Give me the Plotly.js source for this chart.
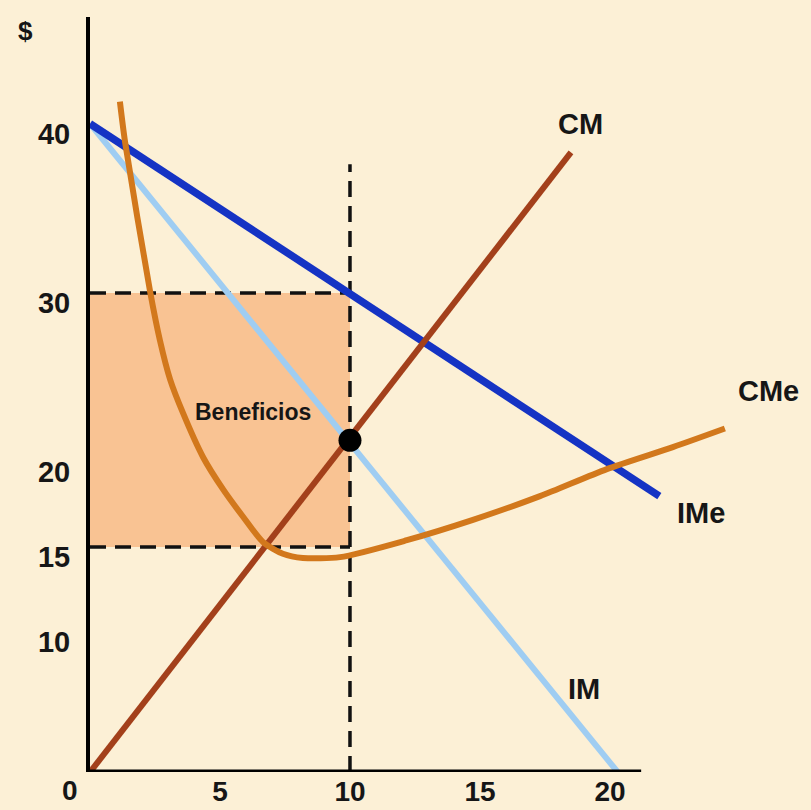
<!DOCTYPE html>
<html>
<head>
<meta charset="utf-8">
<script src="https://cdn.plot.ly/plotly-3.0.1.min.js"></script>
<style>html,body{margin:0;padding:0;background:#fcf0d6;}</style>
</head>
<body>
<div id="chart" style="width:811px;height:810px;"></div>
<script>
// Demand / marginal revenue (ingreso medio / ingreso marginal)
const qIMe = [0, 21.9];
const vIMe = [40, 18];
const qIM = [0, 20.3];
const vIM = [40, 1.7];
// Marginal cost
const qCM = [0, 18.5];
const vCM = [1.7, 38.3];
// Average cost (U-shaped)
const qCMe = [1.15, 1.35, 2.31, 2.69, 3.08, 3.58, 4.35, 5.12, 5.88, 6.65, 7.42, 8.19, 9.62, 12.19, 14.73, 17.31, 19.88, 22.42, 24.42];
const vCMe = [41.3, 38.9, 30.1, 27.2, 24.9, 22.9, 20.3, 18.4, 16.8, 15.3, 14.6, 14.35, 14.4, 15.4, 16.6, 18.0, 19.6, 20.9, 22.0];
// Profit-maximising point
const qOpt = [10];
const pOpt = [21.3];
const priceLevel = 30;   // price at q*
const costLevel = 15;    // average cost at q*
const xTicks = [5, 10, 15, 20];
const yTicks = [10, 15, 20, 30, 40];
const yBottom = 1.71;
const xAxisEnd = 21.2;

const FONT = '"Liberation Sans", Arial, sans-serif';
const TXT = '#161616';

const traces = [
  {x: qIM, y: vIM, mode: 'lines', line: {color: '#9fcdf2', width: 6}, hoverinfo: 'skip'},
  {x: qIMe, y: vIMe, mode: 'lines', line: {color: '#1533c4', width: 7.5}, hoverinfo: 'skip'},
  {x: qCM, y: vCM, mode: 'lines', line: {color: '#a3401b', width: 6}, hoverinfo: 'skip'},
  {x: qCMe, y: vCMe, mode: 'lines', line: {color: '#d2781c', width: 6, shape: 'spline', smoothing: 0.7}, hoverinfo: 'skip'},
  {x: qOpt, y: pOpt, mode: 'markers', marker: {color: '#000000', size: 23}, hoverinfo: 'skip'}
];

function ann(text, x, y, size, extra) {
  return Object.assign({text: text, x: x, y: y, xref: 'x', yref: 'y', showarrow: false,
    xanchor: 'center', yanchor: 'middle',
    font: {family: FONT, size: size, color: TXT, weight: 700}}, extra || {});
}

const DASH = '16px,9px';

const layout = {
  width: 811, height: 810,
  margin: {l: 90, r: 11, t: 17, b: 38},
  paper_bgcolor: '#fcf0d6',
  plot_bgcolor: '#fcf0d6',
  showlegend: false,
  xaxis: {
    range: [0, 27.31], showgrid: false, zeroline: false, showline: false,
    tickvals: xTicks, ticks: '', ticklabelstandoff: 0,
    tickfont: {family: FONT, size: 28, color: TXT, weight: 700}, fixedrange: true
  },
  yaxis: {
    range: [yBottom, 46.3], showgrid: false, zeroline: false,
    showline: true, linecolor: '#000000', linewidth: 4,
    tickvals: yTicks, ticks: '', ticklabelstandoff: 10, ticklabelshift: 10,
    tickfont: {family: FONT, size: 29, color: TXT, weight: 700}, fixedrange: true
  },
  shapes: [
    {type: 'rect', xref: 'x', yref: 'y', x0: 0, x1: qOpt[0], y0: costLevel, y1: priceLevel,
     fillcolor: '#f9c393', line: {width: 0}, layer: 'below'},
    {type: 'line', xref: 'x', yref: 'y', x0: 0, x1: qOpt[0], y0: priceLevel, y1: priceLevel,
     line: {color: '#111', width: 3.5, dash: DASH}, layer: 'below'},
    {type: 'line', xref: 'x', yref: 'y', x0: 0, x1: qOpt[0], y0: costLevel, y1: costLevel,
     line: {color: '#111', width: 3.5, dash: DASH}, layer: 'below'},
    {type: 'line', xref: 'x', yref: 'y', x0: qOpt[0], x1: qOpt[0], y0: yBottom, y1: 37.6,
     line: {color: '#111', width: 3.5, dash: DASH}, layer: 'below'},
    {type: 'line', xref: 'x', yref: 'y', x0: 0, x1: xAxisEnd, y0: yBottom, y1: yBottom,
     line: {color: '#000', width: 5}, layer: 'above'}
  ],
  annotations: [
    ann('CM', 18.85, 40.0, 29),
    ann('IM', 19.0, 6.6, 29),
    ann('IMe', 23.5, 17.0, 29),
    ann('CMe', 26.1, 24.2, 29),
    ann('Beneficios', 6.27, 23.0, 23),
    ann('Cantidad', 25.1, 1.3, 28),
    ann('$', -0.0915, 0.981, 26, {xref: 'paper', yref: 'paper'}),
    ann('0', -0.028, -0.024, 28, {xref: 'paper', yref: 'paper'})
  ]
};

Plotly.newPlot('chart', traces, layout, {displayModeBar: false, staticPlot: true});
</script>
</body>
</html>
